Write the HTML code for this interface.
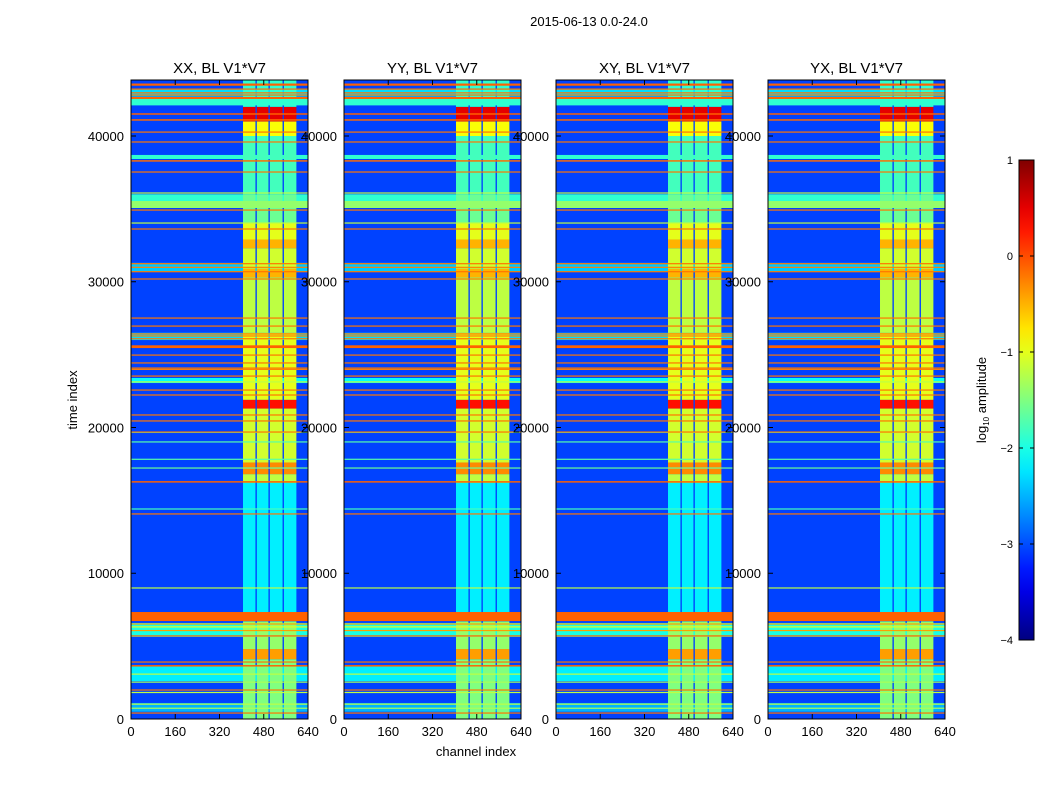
<!DOCTYPE html>
<html><head><meta charset="utf-8"><style>
html,body{margin:0;padding:0;background:#fff;}
svg{display:block;font-family:"Liberation Sans",sans-serif;}
</style></head><body>
<svg id="fig" width="1050" height="800" viewBox="0 0 1050 800">
<rect width="1050" height="800" fill="#fff"/>
<text x="589" y="26" font-size="13" text-anchor="middle">2015-06-13 0.0-24.0</text>
<text x="476" y="756" font-size="13" text-anchor="middle">channel index</text>
<text transform="translate(77,400) rotate(-90)" font-size="13" text-anchor="middle">time index</text>
<g id="panels"></g>
<g id="cbar"></g>
</svg>
<script>
const panelTitles=["XX, BL V1*V7","YY, BL V1*V7","XY, BL V1*V7","YX, BL V1*V7"];
const tickT=[0,10000,20000,30000,40000];
const tickCh=[0,160,320,480,640];
const cbTicks=[1,0,-1,-2,-3,-4];
const cbLabels=["1","0","\u22121","\u22122","\u22123","\u22124"];
const bgVal=-3.05;
// soft full-width bands (time start, end, log10 amplitude)
const bandStart=[42100,38420,35540,35880,30700,26000,23050,20310,5630,2600,500,42700];
const bandEnd=[42600,38700,36000,35540,31300,26500,23400,19690,6590,3600,1100,43200];
const bandVal=[-1.9,-1.9,-1.9,-2.0,-2.4,-2.3,-2.1,-2.0,-2.0,-2.2,-2.5,-2.3];
// rfi column channels
const colStart=[405,455,502,553];
const colEnd=[450,497,548,598];
// column brightness segments
const segStart=[0,4100,4800,7300,16200,16800,17600,19000,21300,21900,26500,30300,30900,32300,32900,34000,36000,40000,41000,42000];
const segEnd=[4100,4800,6700,16200,16800,17600,19000,21300,21900,26500,30300,30900,32300,32900,34000,36000,40000,41000,42000,43842];
const segVal=[-1.5,-0.4,-1.4,-2.2,-1.2,-0.3,-1.1,-1.1,0.3,-1.0,-1.2,-0.5,-1.1,-0.5,-1.0,-1.6,-1.8,-0.9,0.5,-1.9];
// thin lines / strong bands drawn on top (time start, end, value)
const lineStart=[43450,43180,42920,42780,42540,41460,41050,40230,39550,38240,37490,36060,35060,34890,34000,33580,31200,30950,30650,30150,27470,26920,26380,26250,26050,25450,24930,24390,24040,23950,23490,23090,22530,22190,20820,20410,19650,18970,17800,17200,16220,14380,14030,8960,6720,6500,6300,6050,5660,3870,3600,3060,2510,1950,1800,1000,720,380];
const lineEnd=[43600,43260,43000,42850,42680,41560,41150,40310,39630,38340,37570,36130,35540,34960,34070,33660,31280,31030,30730,30230,27550,27000,26460,26320,26130,25640,25010,24470,24120,24030,23570,23170,22610,22270,20900,20490,19730,19050,17860,17260,16320,14450,14110,9030,7340,6560,6360,6110,5740,3950,3700,3120,2570,2030,1860,1060,780,450];
const lineVal=[-0.1,-0.15,-0.2,-0.2,-0.1,-0.1,-0.15,-0.2,-0.2,-0.15,-0.2,-1.2,-1.4,-0.2,-1.2,-0.2,-0.2,-0.25,-0.2,-0.2,-0.2,-0.2,-0.2,-0.25,-0.2,-0.1,-0.2,-0.2,-0.2,-0.25,-0.2,-1.2,-0.2,-0.2,-0.2,-0.2,-0.2,-1.7,-1.7,-1.6,-0.1,-1.8,-0.2,-1.2,-0.1,-0.4,-1.0,-0.4,-0.1,-0.2,-0.1,-1.2,-1.3,-0.2,-1.2,-1.2,-1.3,-0.2];
const tMax=43842, chMax=640;
const panelX=[131,344,556,768], panelW=177, panelTop=80, panelBot=719;

function jet(v){
  let t=(v+4)/5; t=Math.max(0,Math.min(1,t));
  const c=x=>Math.round(255*Math.max(0,Math.min(1,x)));
  return `rgb(${c(1.5-Math.abs(4*t-3))},${c(1.5-Math.abs(4*t-2))},${c(1.5-Math.abs(4*t-1))})`;
}
const NS="http://www.w3.org/2000/svg";
function mk(tag,attrs,parent){const e=document.createElementNS(NS,tag);for(const k in attrs)e.setAttribute(k,attrs[k]);parent.appendChild(e);return e;}
const yS=t=>panelBot-(t/tMax)*(panelBot-panelTop);
const panels=document.getElementById('panels');
panelTitles.forEach((title,p)=>{
  const x0=panelX[p];
  const xS=ch=>x0+ch/chMax*panelW;
  const g=mk('g',{},panels);
  
  
  const bg=mk('rect',{x:x0,y:panelTop,width:panelW,height:panelBot-panelTop,fill:jet(bgVal)},g);
  
  
  bandStart.forEach((s,i)=>{
    const r=mk('rect',{x:x0,y:yS(bandEnd[i]),width:panelW,height:Math.max(1,yS(s)-yS(bandEnd[i])),fill:jet(bandVal[i])},g);
    
    
  });
  colStart.forEach((cs,j)=>{
    segStart.forEach((s,i)=>{
      const r=mk('rect',{x:xS(cs),y:yS(segEnd[i]),width:xS(colEnd[j])-xS(cs),height:yS(s)-yS(segEnd[i]),fill:jet(segVal[i])},g);
      
      
    });
  });
  lineStart.forEach((s,i)=>{
    const r=mk('rect',{x:x0,y:yS(lineEnd[i]),width:panelW,height:Math.max(1.2,yS(s)-yS(lineEnd[i])),fill:jet(lineVal[i])},g);
    
    
  });
  const fr=mk('rect',{x:x0,y:panelTop,width:panelW,height:panelBot-panelTop,fill:'none',stroke:'#000','stroke-width':1},g);
  
  
  const tt=mk('text',{x:x0+panelW/2,y:73,'font-size':15,'text-anchor':'middle'},g);
  tt.textContent=title;
  
  
  tickCh.forEach(c=>{
    mk('line',{x1:xS(c),x2:xS(c),y1:panelBot,y2:panelBot-5,stroke:'#000'},g);
    mk('line',{x1:xS(c),x2:xS(c),y1:panelTop,y2:panelTop+5,stroke:'#000'},g);
    const l=mk('text',{x:xS(c),y:736,'font-size':13,'text-anchor':'middle'},g);
    l.textContent=c;
    
    
  });
  tickT.forEach(t=>{
    mk('line',{x1:x0,x2:x0+5,y1:yS(t),y2:yS(t),stroke:'#000'},g);
    mk('line',{x1:x0+panelW,x2:x0+panelW-5,y1:yS(t),y2:yS(t),stroke:'#000'},g);
  });
});
panelX.forEach(x0=>{
  tickT.forEach(t=>{
    const l=mk('text',{x:x0-7,y:yS(t)+5,'font-size':13,'text-anchor':'end'},panels);
    l.textContent=t;
    
    
  });
});
const cb=document.getElementById('cbar');
const defs=mk('defs',{},cb);
const grad=mk('linearGradient',{id:'jetg',x1:0,y1:1,x2:0,y2:0},defs);
for(let k=0;k<=20;k++){mk('stop',{offset:k/20,'stop-color':jet(-4+5*k/20)},grad);}
const cbTop=160,cbBot=640,cbX=1019,cbW=15;
const cbY=v=>cbBot-(v+4)/5*(cbBot-cbTop);
const cr=mk('rect',{x:cbX,y:cbTop,width:cbW,height:cbBot-cbTop,fill:'url(#jetg)',stroke:'#000'},cb);


cbTicks.forEach((v,i)=>{
  mk('line',{x1:cbX,x2:cbX+4,y1:cbY(v),y2:cbY(v),stroke:'#000'},cb);
  mk('line',{x1:cbX+cbW,x2:cbX+cbW-4,y1:cbY(v),y2:cbY(v),stroke:'#000'},cb);
  const l=mk('text',{x:1013,y:cbY(v)+4,'font-size':11,'text-anchor':'end'},cb);
  l.textContent=cbLabels[i];
  
  
});
const cl=mk('text',{transform:'translate(986,400) rotate(-90)','font-size':13,'text-anchor':'middle'},cb);
cl.innerHTML='log<tspan font-size="8" dy="3">10</tspan><tspan dy="-3"> amplitude</tspan>';


</script>
</body></html>
